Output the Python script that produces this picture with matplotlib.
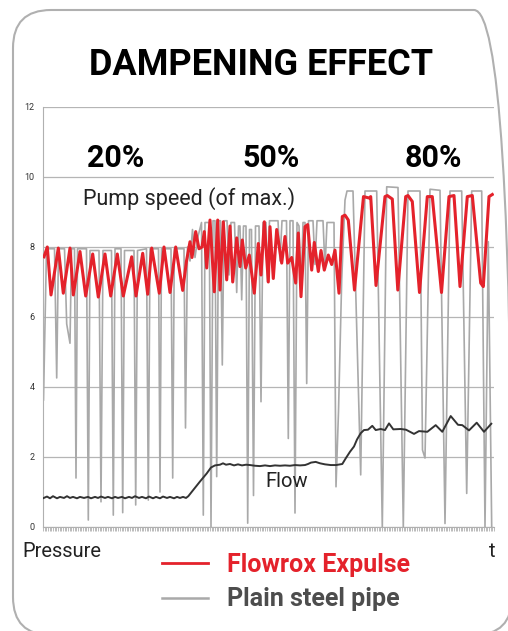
import matplotlib
matplotlib.use('Agg')
import matplotlib.pyplot as plt
from matplotlib.patches import FancyBboxPatch
from matplotlib.lines import Line2D
from matplotlib.ticker import MultipleLocator
from matplotlib.transforms import IdentityTransform

plt.rcParams['font.family'] = ['Roboto', 'DejaVu Sans']

# time axis is in arbitrary sample units (0 .. 451)
red_t = [1.0, 4.3, 8.0, 15.3, 20.3, 27.0, 30.3, 37.0, 42.7, 49.7, 55.3, 62.0, 67.7, 74.3, 80.3,
         88.7, 93.0, 99.7, 104.7, 108.7, 116.3, 121.0, 127.0, 132.7, 139.7, 143.5, 147.0, 149.0,
         152.7, 156.0, 159.0, 161.3, 163.7, 167.0, 171.3, 174.7, 177.0, 180.3, 183.7, 187.0,
         189.7, 193.7, 197.0, 199.3, 202.7, 206.3, 211.3, 215.3, 218.0, 221.3, 225.3, 227.0,
         230.3, 233.7, 238.7, 242.0, 244.7, 248.7, 252.7, 255.3, 258.0, 262.0, 264.7, 268.7,
         271.3, 275.3, 278.0, 281.3, 285.3, 288.7, 292.0, 296.0, 299.3, 302.0, 305.3, 311.5,
         320.5, 326.0, 327.7, 333.0, 342.0, 344.3, 349.3, 354.8, 362.7, 365.0, 369.3, 376.5,
         384.3, 389.3, 398.5, 406.0, 411.0, 417.0, 424.3, 429.3, 437.7, 440.3, 446.0, 449.3]
red_v = [7.72, 8.0, 6.63, 7.97, 6.68, 7.97, 6.63, 7.87, 6.6, 7.8, 6.57, 7.8, 6.6, 7.8, 6.6,
         7.72, 6.6, 7.82, 6.65, 7.97, 6.68, 8.0, 6.7, 8.0, 6.76, 7.6, 8.15, 7.7,
         8.44, 7.95, 8.0, 8.44, 7.4, 8.77, 6.72, 8.77, 6.77, 8.72, 7.06, 8.6,
         7.0, 8.26, 7.44, 8.2, 7.4, 7.77, 6.68, 8.1, 7.2, 8.72, 7.0, 8.58,
         7.1, 8.5, 7.54, 8.3, 7.54, 7.7, 6.97, 8.4, 6.58, 8.58, 8.64, 7.34,
         8.13, 7.3, 7.9, 7.34, 7.77, 7.5, 7.91, 6.68, 8.87, 8.91, 8.77, 6.77,
         9.44, 9.4, 9.44, 6.9, 9.44, 9.47, 9.37, 6.77, 9.44, 9.47, 9.3, 6.7,
         9.44, 9.44, 6.7, 9.44, 9.47, 6.87, 9.44, 9.47, 6.97, 6.87, 9.44, 9.5]

gray_t = [0.5, 3.5, 11.5, 13.7, 15.5, 21.5, 23.7, 27.0, 28.5, 31.5, 33.0, 34.5, 43.5, 45.3,
          47.0, 56.0, 58.0, 60.0, 68.5, 70.3, 72.0, 78.0, 79.7, 81.5, 91.0, 92.7, 94.5, 103.5,
          105.3, 107.0, 115.5, 117.0, 118.5, 128.0, 129.7, 131.3, 141.0, 142.5, 144.5, 147.0,
          149.5, 152.0, 155.0, 158.5, 160.3, 162.0, 166.3, 168.0, 170.0, 172.0, 173.7, 175.5,
          177.5, 179.3, 181.0, 184.0, 186.0, 188.0, 191.5, 193.7, 195.5, 197.0, 198.7, 200.5,
          203.0, 204.7, 206.5, 208.5, 210.5, 212.5, 216.0, 218.0, 220.0, 223.0, 224.5, 226.5,
          235.0, 237.0, 239.0, 243.5, 245.3, 247.0, 250.0, 252.0, 254.0, 256.0, 258.0, 260.0,
          262.0, 263.7, 265.5, 270.0, 272.0, 274.0, 280.0, 282.0, 284.0, 291.0, 293.0, 295.5,
          298.7, 302.0, 304.0, 310.0, 317.7, 322.0, 333.7, 339.3, 343.7, 355.0, 360.3, 365.0,
          377.0, 379.5, 382.0, 387.0, 397.0, 402.0, 407.0, 418.7, 423.7, 428.7, 438.7, 442.0,
          445.3, 448.7]
gray_v = [3.63, 7.95, 7.95, 4.26, 7.95, 7.95, 5.8, 5.25, 7.95, 7.95, 1.4, 7.95, 7.95, 0.2,
          7.9, 7.9, 0.72, 7.9, 7.9, 0.34, 7.95, 7.95, 0.41, 7.9, 7.9, 0.63, 7.9, 7.95,
          0.77, 7.95, 7.95, 1.0, 7.95, 7.95, 1.4, 7.95, 7.95, 2.83, 8.0, 7.6,
          8.5, 7.7, 8.3, 8.7, 0.34, 8.7, 8.7, 0.0, 8.75, 8.75, 1.44, 8.75,
          8.75, 4.63, 8.75, 8.75, 7.2, 8.7, 8.7, 6.7, 8.6, 8.6, 6.49, 8.6,
          8.6, 0.11, 8.5, 8.5, 0.9, 8.6, 8.6, 3.58, 8.7, 8.7, 7.0, 8.75,
          8.75, 7.6, 8.75, 8.75, 2.53, 8.75, 8.75, 0.4, 8.7, 8.6, 6.6, 8.7,
          8.7, 4.1, 8.75, 8.75, 7.5, 8.75, 8.75, 7.4, 8.7, 8.7, 1.15, 3.3,
          7.06, 9.34, 9.6, 9.6, 1.49, 9.6, 9.6, 0.0, 9.72, 9.7, 0.0, 9.6,
          9.6, 2.2, 1.97, 9.65, 9.62, 0.1, 9.6, 9.6, 0.96, 9.6, 9.6, 0.0,
          8.15, 0.0]

flow_t = [0, 4, 7, 10, 14, 17, 21, 24, 27, 30, 34, 37, 41, 45, 48, 52, 55, 58, 62, 65, 69, 72,
          75, 79, 82, 86, 89, 92, 96, 99, 103, 106, 110, 113, 117, 120, 124, 127, 131, 134, 137,
          140, 143, 145.3, 150.3, 157, 163.7, 168, 172, 177, 180, 183, 187, 191, 195, 199, 203,
          207, 212, 217, 222, 227, 232, 237, 242, 247, 252, 257, 262, 265, 268, 272.7, 277, 282,
          287.7, 293, 299.3, 302.7, 307, 311, 314, 317.7, 321, 325, 329.3, 332.7, 337.7, 342,
          346, 350.3, 357.7, 363, 371, 376, 384.3, 392.7, 399.3, 407.7, 415, 419.3, 426, 433.7,
          441, 448.3]
flow_v = [0.82, 0.87, 0.82, 0.88, 0.82, 0.86, 0.83, 0.88, 0.83, 0.86, 0.82, 0.86, 0.83, 0.86,
          0.82, 0.86, 0.83, 0.87, 0.83, 0.86, 0.82, 0.86, 0.83, 0.86, 0.82, 0.86, 0.83, 0.88,
          0.83, 0.86, 0.82, 0.87, 0.82, 0.86, 0.82, 0.87, 0.83, 0.86, 0.82, 0.86, 0.83, 0.86,
          0.83, 0.88, 1.06, 1.3, 1.53, 1.7, 1.76, 1.78, 1.82, 1.78, 1.8, 1.76, 1.79, 1.76, 1.78,
          1.77, 1.75, 1.74, 1.76, 1.74, 1.76, 1.75, 1.76, 1.75, 1.77, 1.76, 1.77, 1.8, 1.84, 1.86,
          1.82, 1.79, 1.77, 1.77, 1.8, 1.96, 2.15, 2.3, 2.5, 2.68, 2.77, 2.78, 2.89, 2.77, 2.8,
          2.77, 2.96, 2.79, 2.8, 2.78, 2.66, 2.74, 2.72, 2.91, 2.72, 3.17, 2.92, 2.91, 2.76, 2.98,
          2.72, 2.95]

phase_labels = ['20%', '50%', '80%']
phase_t = [73, 228, 390]

RED = '#e4222b'
GRAY = '#a9a9a9'
W, H = 508, 631

fig = plt.figure(figsize=(W / 100, H / 100), dpi=100)
ax = fig.add_axes([43 / W, 1 - 527 / H, 451 / W, 420 / H])

ax.plot(gray_t, gray_v, color=GRAY, lw=1.2, zorder=2)
ax.plot(flow_t, flow_v, color='#333333', lw=1.4, zorder=3)
ax.plot(red_t, red_v, color=RED, lw=2.2, zorder=4)

ax.set_xlim(0, 451)
ax.set_ylim(0, 12)
ax.set_yticks(range(0, 13, 2))
ax.grid(axis='y', color='#b5b5b5', lw=0.9)
ax.set_axisbelow(True)
ax.tick_params(axis='y', length=0, labelsize=6.5, labelcolor='#333333', pad=6)
ax.set_xticks([])
ax.xaxis.set_minor_locator(MultipleLocator(451 / 270))
ax.tick_params(axis='x', which='minor', length=3, color='#b0b0b0', width=0.6)
for s in ['top', 'right']:
    ax.spines[s].set_visible(False)
for s in ['left', 'bottom']:
    ax.spines[s].set_color('#b0b0b0')

for lab, t in zip(phase_labels, phase_t):
    ax.text(t, 10.29, lab, ha='center', va='baseline', fontsize=22, fontweight='bold')
ax.text(40, 9.2, 'Pump speed (of max.)', ha='left', va='baseline', fontsize=15.5, color='#222222')
ax.text(222, 1.14, 'Flow', ha='left', va='baseline', fontsize=14.5, color='#222222')

def fx(x):
    return x / W

def fy(y):
    return 1 - y / H

fig.text(fx(261), fy(75), 'DAMPENING EFFECT', ha='center', va='baseline',
         fontsize=26, fontweight='bold')
fig.text(fx(22), fy(557), 'Pressure', ha='left', va='baseline', fontsize=14.5, color='#222222')
fig.text(fx(492), fy(557), 't', ha='center', va='baseline', fontsize=14.5, color='#222222')

fig.add_artist(Line2D([fx(162), fx(208)], [fy(563), fy(563)], color=RED, lw=2))
fig.add_artist(Line2D([fx(162), fx(208)], [fy(598), fy(598)], color=GRAY, lw=1.8))
fig.text(fx(227), fy(572), 'Flowrox Expulse', ha='left', va='baseline', fontsize=18,
         fontweight='bold', color=RED)
fig.text(fx(227), fy(606), 'Plain steel pipe', ha='left', va='baseline', fontsize=18,
         fontweight='bold', color='#4d4d4d')

frame = FancyBboxPatch((13, -4), 499, 625, boxstyle='round,pad=0,rounding_size=38',
                       transform=IdentityTransform(), fill=False, ec='#b0b0b0', lw=1.5)
fig.add_artist(frame)

fig.savefig('out.png', dpi=100)
